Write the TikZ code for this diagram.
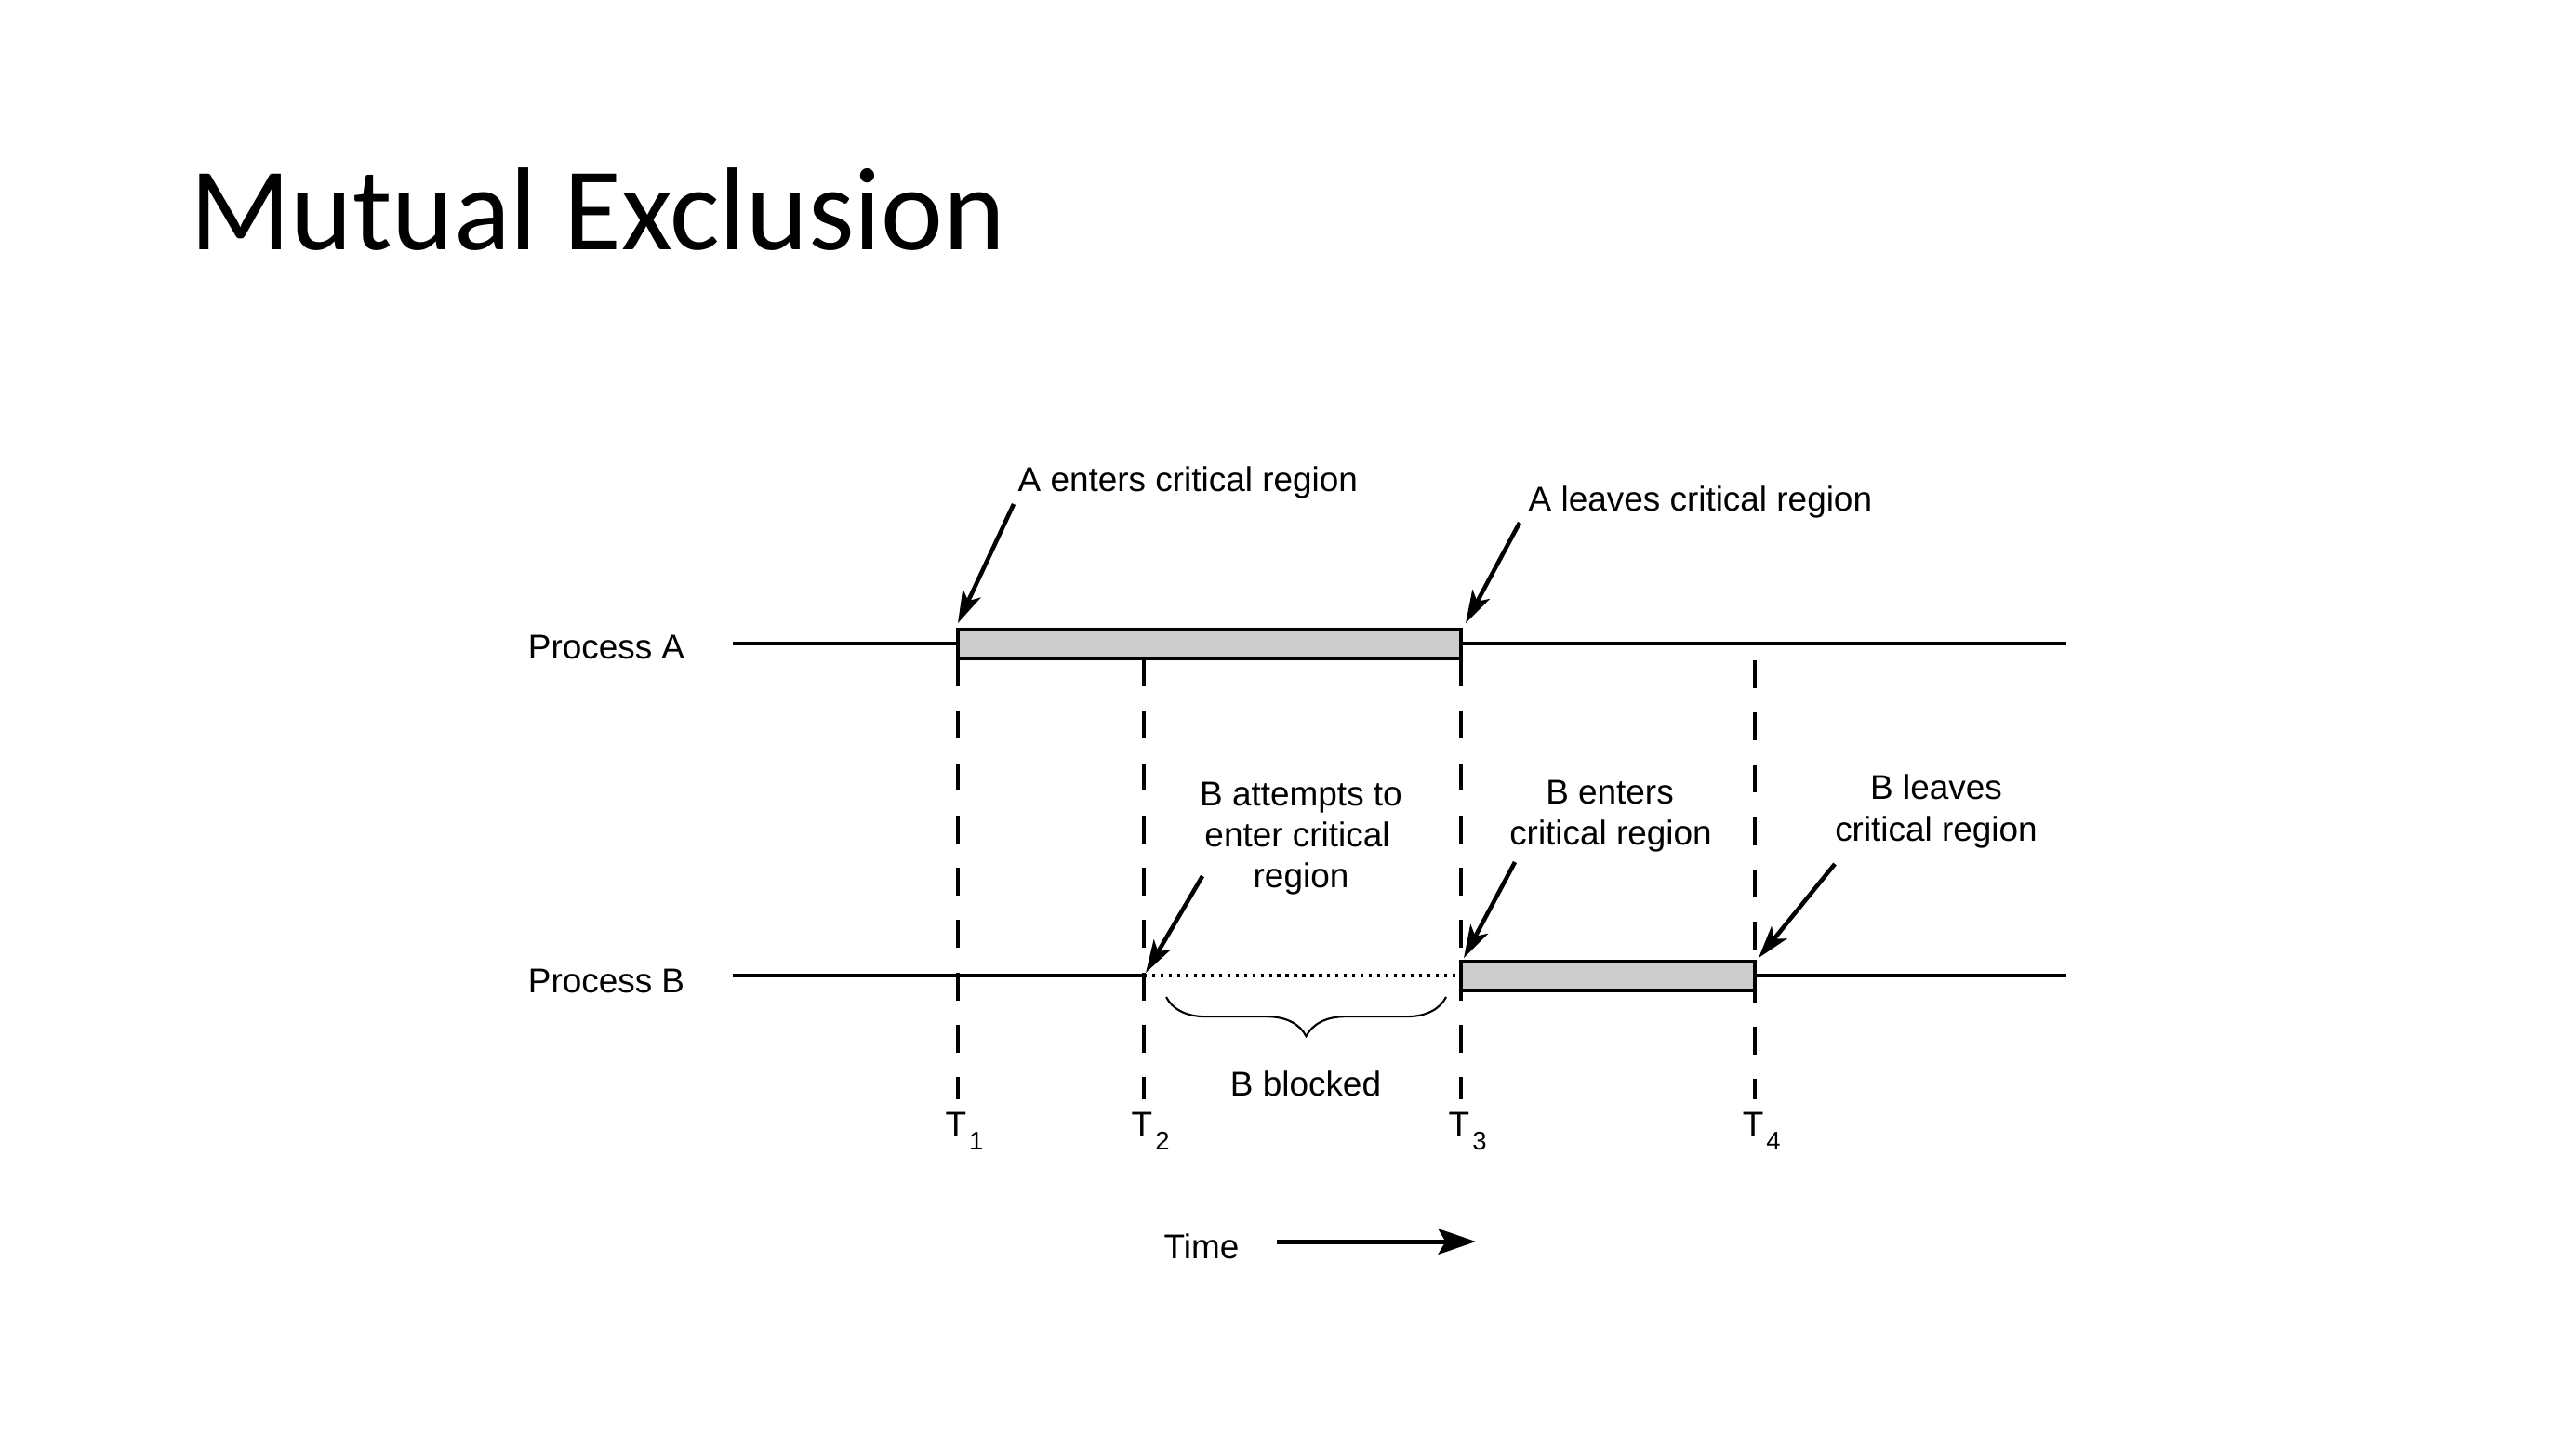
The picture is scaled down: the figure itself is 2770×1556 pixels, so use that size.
\documentclass[tikz,border=0pt]{standalone}
\usepackage{fontspec}
\setmainfont{Liberation Sans}
\newfontfamily\titlefont{Carlito}
\usetikzlibrary{arrows.meta,decorations.pathreplacing}
\newcommand{\Tlab}[1]{T\rlap{\kern0.08em\raisebox{-0.42em}{\fontsize{7.8pt}{9pt}\selectfont #1}}}
\begin{document}
\begin{tikzpicture}[x=0.01cm,y=-0.01cm,
  lbl/.style={inner sep=0pt, font=\fontsize{10.5pt}{12.6pt}\selectfont},
  axis/.style={line width=1.3pt},
  crit/.style={draw, line width=1.3pt, fill=black!20},
  guide/.style={line width=1.1pt, dash pattern=on 8.5pt off 7.5pt},
  pointer/.style={line width=1.3pt, -{Stealth[length=10pt,width=6pt,inset=2.5pt]}},
  timepointer/.style={line width=1.4pt, -{Stealth[length=11.5pt,width=7.8pt,inset=2.2pt]}},
  blockdots/.style={line width=1pt, dash pattern=on 0.9pt off 1.65pt},
  bracestyle/.style={line width=0.6pt, decorate, decoration={brace, mirror, amplitude=12pt}},
]
\fill[white] (0,0) rectangle (2770,1556);
\useasboundingbox (0,0) rectangle (2770,1556);

% title
\node[anchor=base west, inner sep=0pt, font=\titlefont\fontsize{36pt}{40pt}\selectfont] (title) at (204,268) {Mutual Exclusion};

% time coordinates
\coordinate (A0) at (788,692);
\coordinate (A1) at (1030,692);
\coordinate (A3) at (1571,692);
\coordinate (A4) at (1887,692);
\coordinate (Aend) at (2222,692);
\coordinate (B0) at (788,1049);
\coordinate (B2) at (1230,1049);
\coordinate (B3) at (1571,1049);
\coordinate (B4) at (1887,1049);
\coordinate (Bend) at (2222,1049);

% process labels
\node[lbl, anchor=base] (pa) at (652,708) {Process A};
\node[lbl, anchor=base] (pb) at (652,1067) {Process B};

% dashed time guides
\coordinate (g1t) at (1030,708);  \coordinate (g1b) at (1030,1182);
\coordinate (g2t) at (1230,708);  \coordinate (g2b) at (1230,1182);
\coordinate (g3t) at (1571,708);  \coordinate (g3b) at (1571,1182);
\coordinate (g4t) at (1887,710);  \coordinate (g4b) at (1887,1182);
\draw[guide] (g1t) -- (g1b);
\draw[guide] (g2t) -- (g2b);
\draw[guide] (g3t) -- (g3b);
\draw[guide] (g4t) -- (g4b);

% process lines
\draw[axis] (A0) -- (A1);
\draw[axis] (A3) -- (Aend);
\draw[axis] (B0) -- (B2);
\draw[blockdots] (B2) -- (B3);
\draw[axis] (B4) -- (Bend);

% critical regions
\draw[crit] (1030,677) rectangle (1571,708);
\draw[crit] (1571,1034) rectangle (1887,1065);

% labels with pointers
\node[lbl, anchor=base west] (aen) at (1094,528) {A enters critical region};
\node[lbl, anchor=base west] (ale) at (1643,549) {A leaves critical region};
\node[lbl, anchor=base] (bat1) at (1399,866) {B attempts to};
\node[lbl, anchor=base] (bat2) at (1395,910) {enter critical};
\node[lbl, anchor=base] (bat3) at (1399,954) {region};
\node[lbl, anchor=base] (ben1) at (1731,864) {B enters};
\node[lbl, anchor=base] (ben2) at (1732,908) {critical region};
\node[lbl, anchor=base] (ble1) at (2082,859) {B leaves};
\node[lbl, anchor=base] (ble2) at (2082,904) {critical region};

\coordinate (p1s) at (1090,542); \coordinate (p1e) at (1030,670);
\coordinate (p2s) at (1634,562); \coordinate (p2e) at (1576,670);
\coordinate (p3s) at (1293,942); \coordinate (p3e) at (1232,1046);
\coordinate (p4s) at (1629,927); \coordinate (p4e) at (1574,1030);
\coordinate (p5s) at (1973,929); \coordinate (p5e) at (1891,1030);
\draw[pointer] (p1s) -- (p1e);
\draw[pointer] (p2s) -- (p2e);
\draw[pointer] (p3s) -- (p3e);
\draw[pointer] (p4s) -- (p4e);
\draw[pointer] (p5s) -- (p5e);

% brace
\coordinate (brl) at (1254,1072);
\coordinate (brr) at (1555,1072);
\draw[bracestyle] (brl) -- (brr);
\node[lbl, anchor=base] (blk) at (1404,1178) {B blocked};

% time labels
\node[lbl, anchor=base] (t1) at (1028,1221) {\Tlab{1}};
\node[lbl, anchor=base] (t2) at (1228,1221) {\Tlab{2}};
\node[lbl, anchor=base] (t3) at (1569,1221) {\Tlab{3}};
\node[lbl, anchor=base] (t4) at (1885,1221) {\Tlab{4}};

% time arrow
\node[lbl, anchor=base] (time) at (1292,1353) {Time};
\coordinate (tas) at (1373,1335);
\coordinate (tae) at (1587,1335);
\draw[timepointer] (tas) -- (tae);
\end{tikzpicture}
\end{document}
